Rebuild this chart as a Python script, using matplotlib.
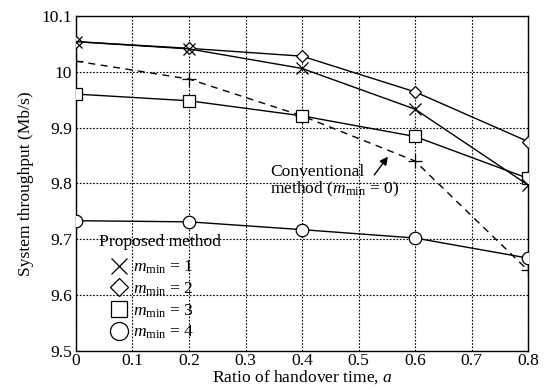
import matplotlib
matplotlib.use("Agg")
import matplotlib.pyplot as plt
from matplotlib.lines import Line2D

plt.rcParams['font.family'] = ['Liberation Serif', 'DejaVu Serif']
plt.rcParams['mathtext.fontset'] = 'custom'
plt.rcParams['mathtext.rm'] = 'Liberation Serif'
plt.rcParams['mathtext.it'] = 'Liberation Serif:italic'

a = [0, 0.2, 0.4, 0.6, 0.8]
m1 = [10.054, 10.041, 10.006, 9.933, 9.797]
m2 = [10.054, 10.042, 10.028, 9.964, 9.875]
m3 = [9.960, 9.948, 9.921, 9.884, 9.809]
m4 = [9.733, 9.731, 9.717, 9.702, 9.666]
conv = [10.019, 9.987, 9.921, 9.840, 9.644]

FS = 12.6

fig = plt.figure(figsize=(5.44, 3.9), dpi=100)
ax = fig.add_axes([0.1397, 0.1008, 0.8309, 0.8582])

ms = 8
kw = dict(color='black', lw=1.0, mfc='white', mec='black', mew=0.9)
ax.plot(a, conv, linestyle=(0, (5, 4)), marker='+', markersize=10, color='black', lw=1.0, mew=0.9, zorder=3)
ax.plot(a, m4, marker='o', markersize=ms + 1, zorder=4, **kw)
ax.plot(a, m3, marker='s', markersize=ms, zorder=4, **kw)
ax.plot(a, m2, marker='D', markersize=ms - 1.5, zorder=5, **kw)
ax.plot(a, m1, marker='x', markersize=ms, zorder=6, **kw)

ax.set_xlim(0, 0.8)
ax.set_ylim(9.5, 10.1)
ax.set_xticks([0, 0.1, 0.2, 0.3, 0.4, 0.5, 0.6, 0.7, 0.8])
ax.set_xticklabels(['0', '0.1', '0.2', '0.3', '0.4', '0.5', '0.6', '0.7', '0.8'])
ax.set_yticks([9.5, 9.6, 9.7, 9.8, 9.9, 10.0, 10.1])
ax.set_yticklabels(['9.5', '9.6', '9.7', '9.8', '9.9', '10', '10.1'])
ax.tick_params(labelsize=FS, length=0, pad=3)
ax.tick_params(axis='x', pad=1.5)
ax.grid(True, color='black', linestyle=(0, (1.5, 1.5)), lw=0.8)
for s in ax.spines.values():
    s.set_linewidth(1.0)

ax.set_xlabel('Ratio of handover time, $a$', fontsize=FS, labelpad=-0.5)
ax.set_ylabel('System throughput (Mb/s)', fontsize=FS, labelpad=5)

ax.annotate('', xy=(0.555, 9.852), xytext=(0.525, 9.811),
            arrowprops=dict(arrowstyle='-|>', color='black', lw=1.0, mutation_scale=12))
ax.text(0.343, 9.835, 'Conventional\nmethod ($m_{\\rm min}$ = 0)', fontsize=FS,
        va='top', ha='left', linespacing=1.0)

ax.text(0.05, 0.325, 'Proposed method', transform=ax.transAxes, fontsize=FS,
        va='center', ha='left')
handles = [Line2D([], [], linestyle='none', marker=mk, markersize=sz, mfc='white', mec='black', mew=0.9, color='black')
           for mk, sz in [('x', 11), ('D', 9), ('s', 12), ('o', 13)]]
labels = ['$m_{\\rm min}$ = 1', '$m_{\\rm min}$ = 2', '$m_{\\rm min}$ = 3', '$m_{\\rm min}$ = 4']
leg = ax.legend(handles, labels, loc='lower left',
                bbox_to_anchor=(0.065, 0.012), frameon=False, fontsize=FS,
                handlelength=1.0, handletextpad=0.3, labelspacing=0.25, borderaxespad=0.0,
                borderpad=0.3)

fig.savefig('out.png', dpi=100)
